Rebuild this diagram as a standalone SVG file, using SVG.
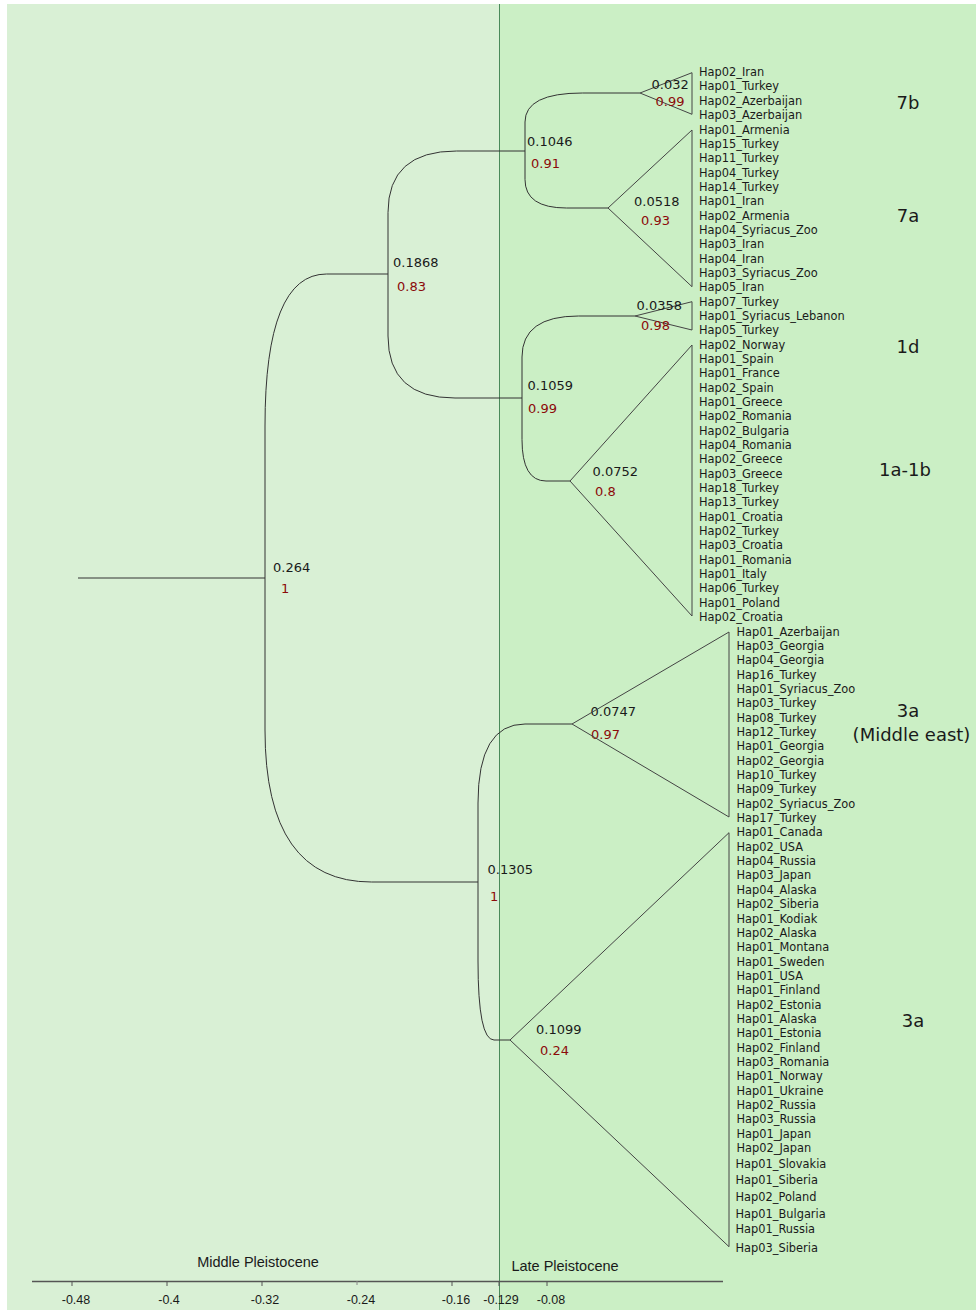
<svg xmlns="http://www.w3.org/2000/svg" width="976" height="1310" viewBox="0 0 976 1310">
<style>
.br{fill:none;stroke:#333;stroke-width:1}
.tri{fill:none;stroke:#444;stroke-width:1}
.tip{font-family:"DejaVu Sans",Verdana,sans-serif;font-size:11.4px;fill:#1a1a1a}
.nl{font-family:"DejaVu Sans",Verdana,sans-serif;font-size:13px;fill:#1a1a1a}
.pp{font-family:"DejaVu Sans",Verdana,sans-serif;font-size:13px;fill:#8b0a0a}
.cl{font-family:"DejaVu Sans",Verdana,sans-serif;font-size:18px;fill:#1a1a1a;text-anchor:middle}
.ax{font-family:"Liberation Sans",Arial,sans-serif;font-size:12.5px;fill:#1a1a1a;text-anchor:middle}
.ep{font-family:"Liberation Sans",Arial,sans-serif;font-size:14.5px;fill:#1a1a1a;text-anchor:middle}
</style>
<rect x="0" y="0" width="976" height="1310" fill="#ffffff"/>
<rect x="7" y="4" width="492" height="1306" fill="#d9f0d5"/>
<rect x="499" y="4" width="477" height="1306" fill="#cbefc5"/>
<line x1="499.5" y1="4" x2="499.5" y2="1310" stroke="#4a8a5a" stroke-width="1"/>

<g id="connectors">
<path class="br" d="M78,578 H265"/>
<path class="br" d="M265,578 V426 Q265,274 326.5,274 H388"/>
<path class="br" d="M265,578 V730 Q265,882 371.5,882 H478"/>
<path class="br" d="M388,274 V212.5 Q388,151 456.5,151 H525"/>
<path class="br" d="M388,274 V336 Q388,398 455,398 H522"/>
<path class="br" d="M525,151 V122 Q525,93 582.5,93 H640"/>
<path class="br" d="M525,151 V179.5 Q525,208 566.5,208 H608"/>
<path class="br" d="M522,398 V357 Q522,316 578.5,316 H635"/>
<path class="br" d="M522,398 V439.5 Q522,481 546,481 H570"/>
<path class="br" d="M478,882 V803 Q478,724 525,724 H572"/>
<path class="br" d="M478,882 V961 Q478,1040 494,1040 H510"/>
</g>

<g id="node-root"><text class="nl" x="273" y="572">0.264</text><text class="pp" x="281" y="593">1</text></g>
<g id="node-A"><text class="nl" x="393" y="266.5">0.1868</text><text class="pp" x="397" y="291">0.83</text></g>
<g id="node-E"><text class="nl" x="527" y="145.5">0.1046</text><text class="pp" x="531" y="168">0.91</text></g>
<g id="node-F"><text class="nl" x="527.5" y="390">0.1059</text><text class="pp" x="528" y="413">0.99</text></g>
<g id="node-B"><text class="nl" x="487.5" y="873.5">0.1305</text><text class="pp" x="490" y="901">1</text></g>
<g id="node-C"><text class="nl" x="590.5" y="715.5">0.0747</text><text class="pp" x="591" y="738.5">0.97</text></g>
<g id="node-D"><text class="nl" x="536" y="1033.5">0.1099</text><text class="pp" x="540" y="1055">0.24</text></g>

<g id="clade-7b">
<path class="tri" d="M640,93 L692,72.7 L692,114.3 Z"/>
<text class="nl" x="651.5" y="89">0.032</text><text class="pp" x="655.5" y="106">0.99</text>
<text class="tip" x="699" y="76.1">Hap02_Iran</text>
<text class="tip" x="699" y="90.4">Hap01_Turkey</text>
<text class="tip" x="699" y="104.8">Hap02_Azerbaijan</text>
<text class="tip" x="699" y="119.1">Hap03_Azerbaijan</text>
<text class="cl" x="908" y="109">7b</text>
</g>
<g id="clade-7a">
<path class="tri" d="M608,208 L692,130 L692,286.7 Z"/>
<text class="nl" x="634" y="205.5">0.0518</text><text class="pp" x="641" y="225">0.93</text>
<text class="tip" x="699" y="133.5">Hap01_Armenia</text>
<text class="tip" x="699" y="147.8">Hap15_Turkey</text>
<text class="tip" x="699" y="162.1">Hap11_Turkey</text>
<text class="tip" x="699" y="176.5">Hap04_Turkey</text>
<text class="tip" x="699" y="190.8">Hap14_Turkey</text>
<text class="tip" x="699" y="205.2">Hap01_Iran</text>
<text class="tip" x="699" y="219.5">Hap02_Armenia</text>
<text class="tip" x="699" y="233.8">Hap04_Syriacus_Zoo</text>
<text class="tip" x="699" y="248.2">Hap03_Iran</text>
<text class="tip" x="699" y="262.5">Hap04_Iran</text>
<text class="tip" x="699" y="276.9">Hap03_Syriacus_Zoo</text>
<text class="tip" x="699" y="291.2">Hap05_Iran</text>
<text class="cl" x="908" y="221.5">7a</text>
</g>
<g id="clade-1d">
<path class="tri" d="M635,316 L692,301.7 L692,330 Z"/>
<text class="nl" x="636.5" y="310">0.0358</text><text class="pp" x="641" y="329.5">0.98</text>
<text class="tip" x="699" y="305.5">Hap07_Turkey</text>
<text class="tip" x="699" y="319.9">Hap01_Syriacus_Lebanon</text>
<text class="tip" x="699" y="334.2">Hap05_Turkey</text>
<text class="cl" x="908" y="353">1d</text>
</g>
<g id="clade-1a-1b">
<path class="tri" d="M570,481 L692,345 L692,616 Z"/>
<text class="nl" x="592.5" y="476">0.0752</text><text class="pp" x="595" y="496">0.8</text>
<text class="tip" x="699" y="348.6">Hap02_Norway</text>
<text class="tip" x="699" y="362.9">Hap01_Spain</text>
<text class="tip" x="699" y="377.2">Hap01_France</text>
<text class="tip" x="699" y="391.6">Hap02_Spain</text>
<text class="tip" x="699" y="405.9">Hap01_Greece</text>
<text class="tip" x="699" y="420.3">Hap02_Romania</text>
<text class="tip" x="699" y="434.6">Hap02_Bulgaria</text>
<text class="tip" x="699" y="448.9">Hap04_Romania</text>
<text class="tip" x="699" y="463.3">Hap02_Greece</text>
<text class="tip" x="699" y="477.6">Hap03_Greece</text>
<text class="tip" x="699" y="492">Hap18_Turkey</text>
<text class="tip" x="699" y="506.3">Hap13_Turkey</text>
<text class="tip" x="699" y="520.6">Hap01_Croatia</text>
<text class="tip" x="699" y="535">Hap02_Turkey</text>
<text class="tip" x="699" y="549.3">Hap03_Croatia</text>
<text class="tip" x="699" y="563.7">Hap01_Romania</text>
<text class="tip" x="699" y="578">Hap01_Italy</text>
<text class="tip" x="699" y="592.3">Hap06_Turkey</text>
<text class="tip" x="699" y="606.7">Hap01_Poland</text>
<text class="tip" x="699" y="621">Hap02_Croatia</text>
<text class="cl" x="905" y="476">1a-1b</text>
</g>
<g id="clade-3a-middle-east">
<path class="tri" d="M572,724 L729,632 L729,817 Z"/>
<text class="tip" x="736.5" y="635.7">Hap01_Azerbaijan</text>
<text class="tip" x="736.5" y="650">Hap03_Georgia</text>
<text class="tip" x="736.5" y="664.4">Hap04_Georgia</text>
<text class="tip" x="736.5" y="678.7">Hap16_Turkey</text>
<text class="tip" x="736.5" y="693">Hap01_Syriacus_Zoo</text>
<text class="tip" x="736.5" y="707.4">Hap03_Turkey</text>
<text class="tip" x="736.5" y="721.7">Hap08_Turkey</text>
<text class="tip" x="736.5" y="736.1">Hap12_Turkey</text>
<text class="tip" x="736.5" y="750.4">Hap01_Georgia</text>
<text class="tip" x="736.5" y="764.7">Hap02_Georgia</text>
<text class="tip" x="736.5" y="779.1">Hap10_Turkey</text>
<text class="tip" x="736.5" y="793.4">Hap09_Turkey</text>
<text class="tip" x="736.5" y="807.8">Hap02_Syriacus_Zoo</text>
<text class="tip" x="736.5" y="822.1">Hap17_Turkey</text>
<text class="cl" x="908" y="717">3a</text>
<text class="cl" x="911.5" y="741">(Middle east)</text>
</g>
<g id="clade-3a">
<path class="tri" d="M510,1040 L729,832.7 L729,1246.7 Z"/>
<text class="tip" x="736.5" y="836.4">Hap01_Canada</text>
<text class="tip" x="736.5" y="850.8">Hap02_USA</text>
<text class="tip" x="736.5" y="865.1">Hap04_Russia</text>
<text class="tip" x="736.5" y="879.4">Hap03_Japan</text>
<text class="tip" x="736.5" y="893.8">Hap04_Alaska</text>
<text class="tip" x="736.5" y="908.1">Hap02_Siberia</text>
<text class="tip" x="736.5" y="922.5">Hap01_Kodiak</text>
<text class="tip" x="736.5" y="936.8">Hap02_Alaska</text>
<text class="tip" x="736.5" y="951.1">Hap01_Montana</text>
<text class="tip" x="736.5" y="965.5">Hap01_Sweden</text>
<text class="tip" x="736.5" y="979.8">Hap01_USA</text>
<text class="tip" x="736.5" y="994.2">Hap01_Finland</text>
<text class="tip" x="736.5" y="1008.5">Hap02_Estonia</text>
<text class="tip" x="736.5" y="1022.8">Hap01_Alaska</text>
<text class="tip" x="736.5" y="1037.2">Hap01_Estonia</text>
<text class="tip" x="736.5" y="1051.5">Hap02_Finland</text>
<text class="tip" x="736.5" y="1065.9">Hap03_Romania</text>
<text class="tip" x="736.5" y="1080.2">Hap01_Norway</text>
<text class="tip" x="736.5" y="1094.5">Hap01_Ukraine</text>
<text class="tip" x="736.5" y="1108.9">Hap02_Russia</text>
<text class="tip" x="736.5" y="1123.2">Hap03_Russia</text>
<text class="tip" x="736.5" y="1137.6">Hap01_Japan</text>
<text class="tip" x="736.5" y="1151.9">Hap02_Japan</text>
<text class="tip" x="735.5" y="1167.7">Hap01_Slovakia</text>
<text class="tip" x="735.5" y="1183.7">Hap01_Siberia</text>
<text class="tip" x="735.5" y="1200.7">Hap02_Poland</text>
<text class="tip" x="735.5" y="1217.7">Hap01_Bulgaria</text>
<text class="tip" x="735.5" y="1233.1">Hap01_Russia</text>
<text class="tip" x="735.5" y="1252.1">Hap03_Siberia</text>
<text class="cl" x="913" y="1026.5">3a</text>
</g>

<g id="axis">
<line x1="32" y1="1281.5" x2="723" y2="1281.5" stroke="#555" stroke-width="1.5"/>
<g stroke="#555" stroke-width="1">
<line x1="72" y1="1281" x2="72" y2="1286"/>
<line x1="167" y1="1281" x2="167" y2="1286"/>
<line x1="262" y1="1281" x2="262" y2="1286"/>
<line x1="357" y1="1281" x2="357" y2="1285" stroke="#888"/>
<line x1="452" y1="1281" x2="452" y2="1286"/>
<line x1="499" y1="1281" x2="499" y2="1286"/>
<line x1="547" y1="1281" x2="547" y2="1286"/>
</g>
<text class="ax" x="76" y="1304">-0.48</text>
<text class="ax" x="169" y="1304">-0.4</text>
<text class="ax" x="265" y="1304">-0.32</text>
<text class="ax" x="361" y="1304">-0.24</text>
<text class="ax" x="456" y="1304">-0.16</text>
<text class="ax" x="501" y="1304">-0.129</text>
<text class="ax" x="551" y="1304">-0.08</text>
<text class="ep" x="258" y="1267">Middle Pleistocene</text>
<text class="ep" x="565" y="1271">Late Pleistocene</text>
</g>
</svg>
